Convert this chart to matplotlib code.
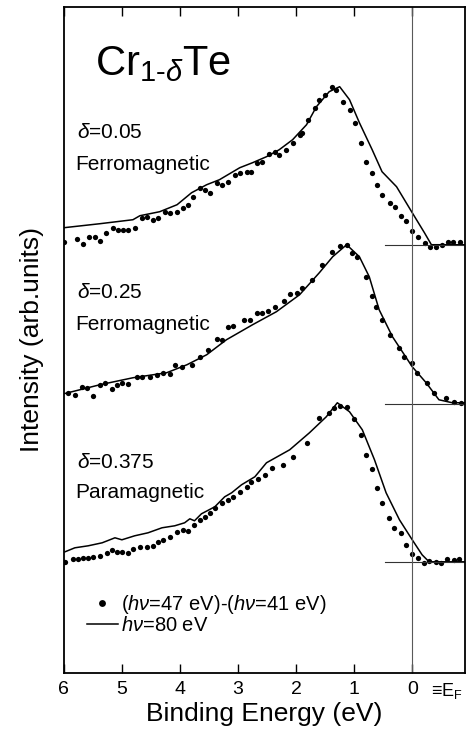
import numpy as np
import matplotlib.pyplot as plt

plt.rcParams['font.family'] = ['Liberation Sans', 'DejaVu Sans']
plt.rcParams['mathtext.fontset'] = 'custom'
plt.rcParams['mathtext.rm'] = 'Liberation Sans'
plt.rcParams['mathtext.it'] = 'Liberation Sans:italic'

# delta = 0.05, ferromagnetic
e_line_005 = [6.00, 5.38, 4.81, 4.69, 4.35, 4.05, 3.80, 3.54, 3.32, 2.97, 2.75, 2.51,
              2.29, 2.06, 1.82, 1.65, 1.43, 1.25, 1.08, 0.91, 0.69, 0.52, 0.27, 0.00,
              -0.21, -0.33, -0.91]
i_line_005 = [17, 21, 25, 29, 33, 40, 52, 60, 65, 77, 82, 88,
              95, 105, 120, 138, 153, 158, 145, 122, 95, 73, 58, 32,
              12, 0, 0]
e_dot_005 = [6.00, 5.77, 5.67, 5.57, 5.46, 5.38, 5.27, 5.15, 5.07, 4.98,
             4.90, 4.78, 4.66, 4.57, 4.47, 4.38, 4.26, 4.18, 4.05, 3.95,
             3.87, 3.78, 3.66, 3.57, 3.49, 3.37, 3.28, 3.18, 3.06, 2.97,
             2.85, 2.77, 2.68, 2.58, 2.46, 2.37, 2.29, 2.17, 2.06, 1.94,
             1.89, 1.80, 1.68, 1.60, 1.51, 1.39, 1.31, 1.20, 1.08, 0.99,
             0.88, 0.79, 0.69, 0.60, 0.52, 0.39, 0.29, 0.19, 0.10, 0.00,
             -0.10, -0.22, -0.31, -0.41, -0.52, -0.62, -0.70, -0.82]
i_dot_005 = [3, 6, 1, 8, 8, 4, 12, 17, 15, 15,
             15, 17, 27, 28, 25, 27, 33, 32, 33, 37,
             40, 48, 57, 55, 52, 62, 60, 63, 70, 72,
             73, 73, 82, 83, 91, 93, 90, 95, 102, 110,
             112, 125, 137, 145, 150, 158, 155, 143, 135, 122,
             102, 83, 72, 60, 50, 42, 38, 29, 24, 14,
             8, 2, -2, -2, 0, 3, 3, 3]

# delta = 0.25, ferromagnetic
e_line_025 = [6.00, 5.38, 4.81, 4.23, 3.88, 3.54, 3.20, 2.75, 2.34, 1.94, 1.60,
              1.37, 1.13, 0.91, 0.74, 0.57, 0.34, 0.00, -0.24, -0.46, -0.69, -0.91]
i_line_025 = [10, 19, 26, 31, 39, 49, 64, 79, 92, 109, 131,
              147, 159, 147, 127, 94, 67, 37, 21, 4, 1, 1]
e_dot_025 = [5.93, 5.81, 5.69, 5.60, 5.50, 5.38, 5.29, 5.17, 5.09, 5.00,
             4.90, 4.74, 4.66, 4.52, 4.40, 4.30, 4.18, 4.09, 3.97, 3.80,
             3.66, 3.52, 3.37, 3.28, 3.18, 3.09, 2.89, 2.80, 2.68, 2.59,
             2.49, 2.37, 2.20, 2.11, 1.99, 1.89, 1.72, 1.56, 1.39, 1.25,
             1.12, 1.03, 0.95, 0.79, 0.70, 0.62, 0.52, 0.39, 0.22, 0.14,
             0.00, -0.09, -0.26, -0.38, -0.58, -0.72, -0.84]
i_dot_025 = [11, 9, 17, 16, 8, 19, 21, 15, 19, 21,
             20, 27, 27, 27, 29, 31, 30, 39, 37, 39,
             47, 54, 65, 64, 77, 78, 84, 84, 91, 91,
             93, 97, 103, 110, 111, 116, 124, 139, 152, 158,
             159, 151, 147, 127, 108, 97, 84, 69, 56, 47,
             41, 31, 21, 11, 6, 2, 1]

# delta = 0.375, paramagnetic
e_line_0375 = [5.98, 5.81, 5.58, 5.34, 5.12, 5.00, 4.78, 4.55, 4.31, 4.09, 3.92, 3.83,
               3.75, 3.63, 3.40, 3.23, 3.11, 2.94, 2.71, 2.51, 2.11, 1.77, 1.48, 1.29,
               1.08, 0.86, 0.65, 0.45, 0.22, 0.00, -0.17, -0.29, -0.91]
i_line_0375 = [10, 14, 16, 19, 24, 22, 26, 29, 34, 36, 39, 43,
               41, 48, 55, 65, 69, 77, 85, 99, 112, 129, 145, 159,
               150, 132, 102, 69, 42, 22, 7, 0, 0]
e_dot_0375 = [5.98, 5.84, 5.76, 5.67, 5.58, 5.50, 5.38, 5.26, 5.17, 5.09,
              5.00, 4.90, 4.81, 4.69, 4.57, 4.47, 4.38, 4.30, 4.18, 4.05,
              3.95, 3.87, 3.75, 3.66, 3.57, 3.49, 3.40, 3.28, 3.18, 3.09,
              2.97, 2.85, 2.77, 2.66, 2.54, 2.42, 2.23, 2.06, 1.82, 1.60,
              1.43, 1.34, 1.25, 1.12, 1.00, 0.88, 0.79, 0.70, 0.60, 0.52,
              0.40, 0.31, 0.19, 0.10, 0.00, -0.10, -0.21, -0.29, -0.41, -0.50,
              -0.60, -0.72, -0.81]
i_dot_0375 = [0, 3, 3, 4, 4, 5, 6, 9, 12, 10,
              10, 9, 13, 15, 15, 16, 20, 22, 25, 30,
              32, 31, 37, 42, 45, 49, 54, 59, 62, 65,
              70, 75, 80, 83, 87, 94, 97, 105, 119, 144,
              149, 154, 156, 155, 143, 127, 107, 93, 74, 59,
              44, 34, 29, 17, 8, 4, -1, 1, 0, -1,
              3, 2, 3]

offsets = [428, 269, 111]
deltas = ['0.05', '0.25', '0.375']
phases = ['Ferromagnetic', 'Ferromagnetic', 'Paramagnetic']
xticks = [6, 5, 4, 3, 2, 1, 0]

spectra = [(e_line_005, i_line_005, e_dot_005, i_dot_005),
           (e_line_025, i_line_025, e_dot_025, i_dot_025),
           (e_line_0375, i_line_0375, e_dot_0375, i_dot_0375)]

fig = plt.figure(figsize=(4.66, 7.41), dpi=100)
ax = fig.add_axes([0.137, 0.092, 0.861, 0.899])

for (el, il, ed, idt), off in zip(spectra, offsets):
    line, = ax.plot(el, np.array(il) + off, color='k', lw=1.1)
    dots, = ax.plot(ed, np.array(idt) + off, 'o', color='k', ms=3.8, mec='none')
    ax.axhline(off, xmin=0.80, xmax=1.0, color='0.2', lw=0.8)

ax.axvline(0, color='0.35', lw=0.8)

ax.set_xlim(6, -0.91)
ax.set_ylim(0, 666)
ax.set_xticks(xticks)
ax.set_xticklabels([str(t) for t in xticks])
ax.set_yticks([])
ax.tick_params(axis='x', direction='in', top=True, length=6.5, width=1.0,
               labelsize=14, pad=6)
for sp in ax.spines.values():
    sp.set_linewidth(1.3)

ax.set_xlabel('Binding Energy (eV)', fontsize=19, labelpad=3)
ax.set_ylabel('Intensity (arb.units)', fontsize=19, labelpad=14)

ax.text(-0.33, -0.012, '\u2261E$_\\mathrm{F}$', transform=ax.get_xaxis_transform(),
        fontsize=13, ha='left', va='top')

ax.text(5.46, 598, r'Cr$_{\mathrm{1}\text{-}\delta}$Te', fontsize=30, va='baseline')

label_pos = [(540, 508), (380, 348), (210, 180)]
for d, ph, (yd, yp) in zip(deltas, phases, label_pos):
    ax.text(5.77, yd, r'$\delta$=' + d, fontsize=15, va='center')
    ax.text(5.80, yp, ph, fontsize=15, va='center')

ax.legend([dots, line], [r'($h\nu$=47 eV)-($h\nu$=41 eV)', r'$h\nu$=80 eV'],
          loc='upper left', bbox_to_anchor=(0.057, 0.12), frameon=False,
          fontsize=14.5, handlelength=1.55, handletextpad=0.15, labelspacing=0.0,
          borderpad=0, borderaxespad=0, numpoints=1, markerscale=1.3)

fig.savefig('out.png', dpi=100)
